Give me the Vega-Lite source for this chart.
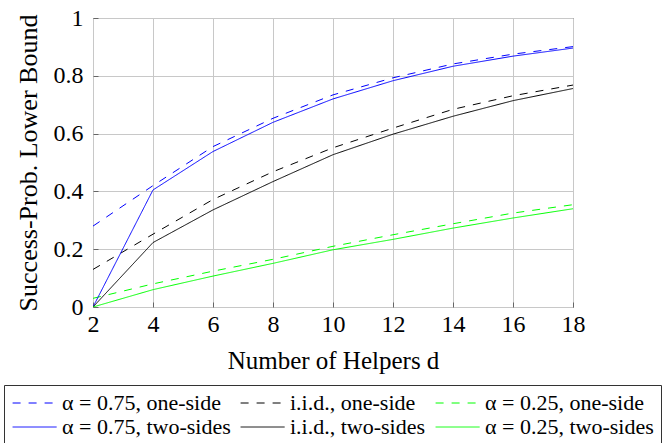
{
  "$schema": "https://vega.github.io/schema/vega-lite/v6.json",
  "autosize": {"type": "none"},
  "padding": {"left": 93, "top": 18, "right": 94, "bottom": 136},
  "width": 480,
  "height": 289,
  "config": {
    "font": "Liberation Serif",
    "view": {"stroke": "#333333", "strokeWidth": 1},
    "axis": {
      "labelFont": "Liberation Serif",
      "titleFont": "Liberation Serif",
      "labelColor": "#000000",
      "titleColor": "#000000",
      "titleFontWeight": "normal",
      "gridColor": "#c8c8c8",
      "gridWidth": 1,
      "domain": false,
      "ticks": true,
      "tickSize": -5,
      "tickColor": "#666666",
      "tickWidth": 1
    },
    "legend": {
      "labelFont": "Liberation Serif"
    }
  },
  "data": {
    "values": [
      {"d": 2, "series": "α = 0.75, one-side", "v": 0.28},
      {"d": 4, "series": "α = 0.75, one-side", "v": 0.42},
      {"d": 6, "series": "α = 0.75, one-side", "v": 0.555},
      {"d": 8, "series": "α = 0.75, one-side", "v": 0.653},
      {"d": 10, "series": "α = 0.75, one-side", "v": 0.734},
      {"d": 12, "series": "α = 0.75, one-side", "v": 0.793},
      {"d": 14, "series": "α = 0.75, one-side", "v": 0.841},
      {"d": 16, "series": "α = 0.75, one-side", "v": 0.875},
      {"d": 18, "series": "α = 0.75, one-side", "v": 0.901},
      {"d": 2, "series": "i.i.d., one-side", "v": 0.13},
      {"d": 4, "series": "i.i.d., one-side", "v": 0.252},
      {"d": 6, "series": "i.i.d., one-side", "v": 0.372},
      {"d": 8, "series": "i.i.d., one-side", "v": 0.468},
      {"d": 10, "series": "i.i.d., one-side", "v": 0.551},
      {"d": 12, "series": "i.i.d., one-side", "v": 0.619},
      {"d": 14, "series": "i.i.d., one-side", "v": 0.684},
      {"d": 16, "series": "i.i.d., one-side", "v": 0.731},
      {"d": 18, "series": "i.i.d., one-side", "v": 0.768},
      {"d": 2, "series": "α = 0.25, one-side", "v": 0.03},
      {"d": 4, "series": "α = 0.25, one-side", "v": 0.08},
      {"d": 6, "series": "α = 0.25, one-side", "v": 0.124},
      {"d": 8, "series": "α = 0.25, one-side", "v": 0.165},
      {"d": 10, "series": "α = 0.25, one-side", "v": 0.21},
      {"d": 12, "series": "α = 0.25, one-side", "v": 0.25},
      {"d": 14, "series": "α = 0.25, one-side", "v": 0.288},
      {"d": 16, "series": "α = 0.25, one-side", "v": 0.325},
      {"d": 18, "series": "α = 0.25, one-side", "v": 0.354},
      {"d": 2, "series": "α = 0.75, two-sides", "v": 0},
      {"d": 4, "series": "α = 0.75, two-sides", "v": 0.405},
      {"d": 6, "series": "α = 0.75, two-sides", "v": 0.538},
      {"d": 8, "series": "α = 0.75, two-sides", "v": 0.639},
      {"d": 10, "series": "α = 0.75, two-sides", "v": 0.72},
      {"d": 12, "series": "α = 0.75, two-sides", "v": 0.783},
      {"d": 14, "series": "α = 0.75, two-sides", "v": 0.833},
      {"d": 16, "series": "α = 0.75, two-sides", "v": 0.868},
      {"d": 18, "series": "α = 0.75, two-sides", "v": 0.896},
      {"d": 2, "series": "i.i.d., two-sides", "v": 0},
      {"d": 4, "series": "i.i.d., two-sides", "v": 0.223},
      {"d": 6, "series": "i.i.d., two-sides", "v": 0.336},
      {"d": 8, "series": "i.i.d., two-sides", "v": 0.434},
      {"d": 10, "series": "i.i.d., two-sides", "v": 0.527},
      {"d": 12, "series": "i.i.d., two-sides", "v": 0.598},
      {"d": 14, "series": "i.i.d., two-sides", "v": 0.66},
      {"d": 16, "series": "i.i.d., two-sides", "v": 0.714},
      {"d": 18, "series": "i.i.d., two-sides", "v": 0.756},
      {"d": 2, "series": "α = 0.25, two-sides", "v": 0},
      {"d": 4, "series": "α = 0.25, two-sides", "v": 0.06},
      {"d": 6, "series": "α = 0.25, two-sides", "v": 0.107},
      {"d": 8, "series": "α = 0.25, two-sides", "v": 0.151},
      {"d": 10, "series": "α = 0.25, two-sides", "v": 0.198},
      {"d": 12, "series": "α = 0.25, two-sides", "v": 0.234},
      {"d": 14, "series": "α = 0.25, two-sides", "v": 0.273},
      {"d": 16, "series": "α = 0.25, two-sides", "v": 0.308},
      {"d": 18, "series": "α = 0.25, two-sides", "v": 0.34}
    ]
  },
  "mark": {"type": "line", "strokeWidth": 1, "clip": true},
  "encoding": {
    "x": {
      "field": "d",
      "type": "quantitative",
      "scale": {"domain": [2, 18], "nice": false, "zero": false},
      "axis": {
        "values": [2, 4, 6, 8, 10, 12, 14, 16, 18],
        "title": "Number of Helpers d",
        "labelFont": "Liberation Serif",
        "titleFont": "Liberation Serif",
        "labelFontSize": 24,
        "titleFontSize": 25,
        "labelPadding": 10,
        "titlePadding": 12,
        "labelFlush": false
      }
    },
    "y": {
      "field": "v",
      "type": "quantitative",
      "scale": {"domain": [0, 1], "nice": false},
      "axis": {
        "values": [0, 0.2, 0.4, 0.6, 0.8, 1],
        "format": "~g",
        "title": "Success-Prob. Lower Bound",
        "labelFont": "Liberation Serif",
        "titleFont": "Liberation Serif",
        "labelFontSize": 24,
        "titleFontSize": 26,
        "labelPadding": 15,
        "titlePadding": 12,
        "labelFlush": false
      }
    },
    "color": {
      "field": "series",
      "type": "nominal",
      "scale": {
        "domain": ["α = 0.75, one-side", "i.i.d., one-side", "α = 0.25, one-side", "α = 0.75, two-sides", "i.i.d., two-sides", "α = 0.25, two-sides"],
        "range": ["#0000ff", "#000000", "#00ff00", "#0000ff", "#000000", "#00ff00"]
      },
      "legend": {
        "title": null,
        "orient": "none",
        "legendX": -89,
        "legendY": 367,
        "columns": 3,
        "direction": "horizontal",
        "strokeColor": "#333333",
        "fillColor": "#ffffff",
        "padding": 7,
        "columnPadding": 7,
        "rowPadding": 2,
        "symbolType": "M-2.136,0H7.864",
        "symbolSize": 77.44,
        "symbolStrokeWidth": 1,
        "labelFont": "Liberation Serif",
        "labelFontSize": 22,
        "labelColor": "#000000",
        "labelOffset": 29,
        "labelLimit": 400
      }
    },
    "strokeDash": {
      "field": "series",
      "type": "nominal",
      "scale": {
        "domain": ["α = 0.75, one-side", "i.i.d., one-side", "α = 0.25, one-side", "α = 0.75, two-sides", "i.i.d., two-sides", "α = 0.25, two-sides"],
        "range": [[8, 8], [8, 8], [8, 8], [1, 0], [1, 0], [1, 0]]
      }
    }
  }
}
